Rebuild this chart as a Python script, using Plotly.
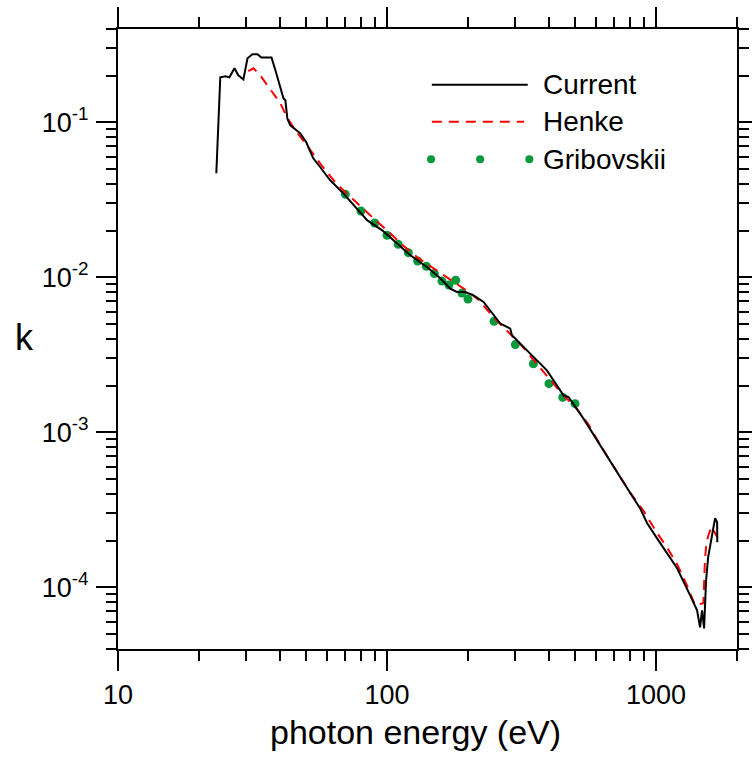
import plotly.graph_objects as go
import numpy as np

# ---- data ----
cur_E = [23.2, 24.0, 25.1, 25.95, 27.1, 28.0, 29.25, 30.3, 31.6, 33.0, 34.1, 35.6, 37.2, 38.5,
         40.1, 41.2, 41.9, 42.6, 43.7, 47.6, 50.1, 53.2, 56.5, 61.5, 68.8, 80.3, 84.5, 96.0,
         109.2, 122.1, 141.1, 157.8, 171.8, 182, 195.4, 209.7, 228.5, 256.3, 263.6, 287.1,
         291.3, 340.7, 393, 453, 472.8, 537.5, 620, 748.3, 873, 927, 1009, 1198, 1339, 1421,
         1458, 1483, 1509, 1535, 1562, 1616, 1658, 1687, 1690]
cur_k = [0.0469, 0.195, 0.198, 0.195, 0.223, 0.201, 0.189, 0.259, 0.275, 0.275, 0.262, 0.262,
         0.262, 0.216, 0.1655, 0.143, 0.1387, 0.106, 0.0957, 0.0849, 0.0743, 0.0586, 0.0513,
         0.0423, 0.0348, 0.0259, 0.0233, 0.0201, 0.01656, 0.01387, 0.01161, 0.00986, 0.00845,
         0.00804, 0.00804, 0.00765, 0.00693, 0.00533, 0.00503, 0.00467, 0.00423, 0.00322,
         0.00251, 0.001733, 0.00169, 0.001226, 0.00082, 0.000490, 0.000323, 0.000259,
         0.000207, 0.0001327, 0.0000888, 0.0000711, 0.0000552, 0.0000711, 0.0000543,
         0.000111, 0.000156, 0.000223, 0.000279, 0.000263, 0.000195]

henke_E = [30.5, 31.9, 33.5, 35, 37, 40, 42.6, 45.6, 51, 57, 65, 73, 80, 90, 103, 115, 130,
           150, 167, 187, 200, 220, 247, 280, 320, 356, 400, 450, 501, 560, 620, 700, 800, 900,
           1000, 1100, 1200, 1300, 1397, 1500, 1520, 1540, 1570, 1610, 1690]
henke_k = [0.214, 0.223, 0.205, 0.185, 0.163, 0.134, 0.107, 0.089, 0.069, 0.053, 0.040, 0.0330,
           0.0285, 0.0236, 0.0192, 0.0160, 0.0134, 0.0113, 0.0100, 0.0088, 0.0081, 0.0071,
           0.0056, 0.0045, 0.00355, 0.00284, 0.00222, 0.00175, 0.00146, 0.00113, 0.00083,
           0.00059, 0.00041, 0.00031, 0.00023, 0.00018, 0.000140, 0.000104, 0.0000766,
           0.000079, 0.00015, 0.000195, 0.00022, 0.000245, 0.00021]

grib_E = [70, 80, 90, 100, 110, 120, 130, 140, 150, 160, 170, 180, 190, 200, 250, 300, 350,
          400, 450, 500]
grib_k = [0.0343, 0.0268, 0.0224, 0.01866, 0.01633, 0.01443, 0.01274, 0.01178, 0.01057,
          0.00946, 0.00892, 0.00957, 0.00792, 0.00724, 0.0052, 0.00368, 0.00277, 0.00206,
          0.00168, 0.00153]

x_tickvals = [10, 100, 1000]
x_ticktext = ["10", "100", "1000"]
y_tickvals = [1e-4, 1e-3, 1e-2, 1e-1]
y_ticktext = ["10<sup>-4</sup>", "10<sup>-3</sup>", "10<sup>-2</sup>", "10<sup>-1</sup>"]

FONT = "Liberation Sans, Arial, sans-serif"
GREEN = "#079a3c"

fig = go.Figure()
fig.add_trace(go.Scatter(x=grib_E, y=grib_k, mode="markers", name="Gribovskii",
                         marker=dict(color=GREEN, size=9)))
fig.add_trace(go.Scatter(x=henke_E, y=henke_k, mode="lines", name="Henke",
                         line=dict(color="#ff0000", width=2, dash="10px,7px")))
fig.add_trace(go.Scatter(x=cur_E, y=cur_k, mode="lines", name="Current",
                         line=dict(color="black", width=2)))

axis_common = dict(
    type="log", showgrid=False, zeroline=False, showline=True, linecolor="black",
    linewidth=2, ticks="outside", ticklen=20, tickwidth=2, tickcolor="black",
    mirror="ticks", automargin=False, tickfont=dict(family=FONT, size=27, color="black"),
    minor=dict(ticks="outside", ticklen=10, tickwidth=2, tickcolor="black", dtick="D1",
               showgrid=False),
)

fig.update_xaxes(range=[1, np.log10(2000)], tickvals=x_tickvals, ticktext=x_ticktext,
                 ticklabelstandoff=1, **axis_common)
fig.update_yaxes(range=[np.log10(4e-5), np.log10(0.4)], tickvals=y_tickvals,
                 ticktext=y_ticktext, ticklabelstandoff=2, **axis_common)

# legend (drawn manually)
lx0, lx1, ltx = 0.507, 0.662, 0.684
ly = [0.910, 0.8505, 0.790]
fig.add_shape(type="line", xref="paper", yref="paper", x0=lx0, x1=lx1, y0=ly[0], y1=ly[0],
              line=dict(color="black", width=2))
fig.add_shape(type="line", xref="paper", yref="paper", x0=lx0, x1=0.656, y0=ly[1], y1=ly[1],
              line=dict(color="#ff0000", width=2, dash="10px,7px"))
for dx in [0.5057, 0.585, 0.6645]:
    fig.add_shape(type="circle", xref="paper", yref="paper", xsizemode="pixel",
                  ysizemode="pixel", xanchor=dx, yanchor=ly[2], x0=-4, x1=4, y0=-4, y1=4,
                  fillcolor=GREEN, line=dict(width=0))
for name, yy in zip(["Current", "Henke", "Gribovskii"], ly):
    fig.add_annotation(text=name, xref="paper", yref="paper", x=ltx, y=yy, xanchor="left",
                       yanchor="middle", showarrow=False,
                       font=dict(family=FONT, size=28, color="black"))

fig.add_annotation(text="k", xref="paper", yref="paper", x=-0.17, y=0.503, showarrow=False,
                   font=dict(family=FONT, size=36, color="black"))
fig.add_annotation(text="photon energy (eV)", xref="paper", yref="paper", x=0.481, y=-0.1,
                   yanchor="top", showarrow=False,
                   font=dict(family=FONT, size=34, color="black"))

fig.update_layout(width=752, height=758, margin=dict(l=118, r=15, t=29, b=109),
                  paper_bgcolor="white", plot_bgcolor="white", showlegend=False)

fig.write_html("out.html")
